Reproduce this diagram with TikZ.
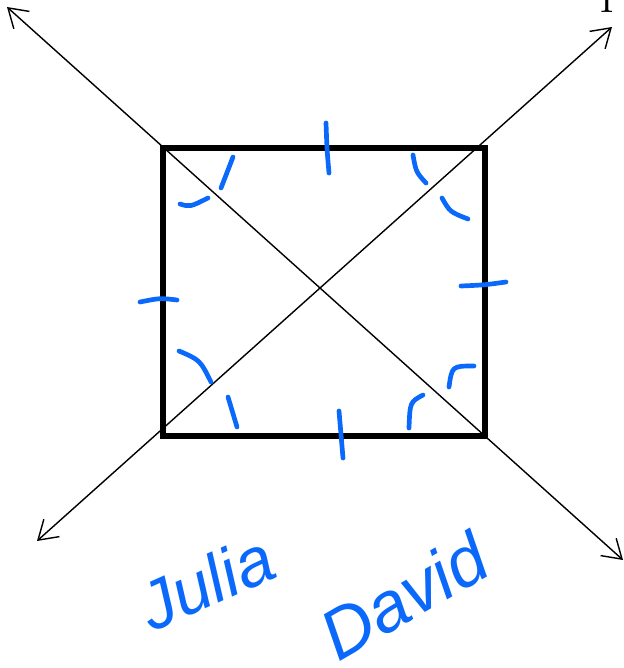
\documentclass[tikz,border=0pt]{standalone}
\usepackage{fontspec}
\usepackage{xcolor}
\usepackage{tikz}
\usetikzlibrary{arrows.meta}
\newfontfamily\handfont{Liberation Sans}
\definecolor{penblue}{RGB}{10, 105, 250}

\begin{document}
\begin{tikzpicture}[
  x=0.03cm, y=-0.03cm,
  axis/.style={line width=1.2pt, {Straight Barb[length=5.5mm, width=7mm, line width=1.2pt]}-{Straight Barb[length=5.5mm, width=7mm, line width=1.2pt]}},
  sqside/.style={draw, line width=4.3pt},
  tickmark/.style={draw=penblue, line width=4pt, line cap=round},
  handname/.style={text=penblue, font=\handfont\itshape\fontsize{58}{64}\selectfont, inner sep=0pt},
]
  \useasboundingbox (0,0) rectangle (624,668);

  % Corners of the square
  \coordinate (tl) at (163,148);
  \coordinate (tr) at (485,148);
  \coordinate (br) at (485,436);
  \coordinate (bl) at (163,436);

  % Ends of the diagonals
  \coordinate (nw) at (7,7);
  \coordinate (se) at (623,560);
  \coordinate (ne) at (612,27);
  \coordinate (sw) at (37,541);

  % Diagonals
  \draw[axis] (nw) -- (se);
  \draw[axis] (sw) -- (ne);

  % Square
  \draw[sqside] (tl) rectangle (br);

  % Label
  \node[font=\fontsize{40}{48}\selectfont, anchor=base west, inner sep=0pt] (p) at (599,12) {P};

  % Equal sides
  \draw[tickmark] (326,123) .. controls (327,150) .. (329,173);
  \draw[tickmark] (339,411) .. controls (341,435) .. (343,458);
  \draw[tickmark] (140,302) .. controls (160,298) .. (177,300);
  \draw[tickmark] (461,286) .. controls (484,285) .. (506,282);

  % Equal angles
  \draw[tickmark] (233,157) .. controls (228,170) .. (221,188);
  \draw[tickmark] (180,204) .. controls (190,207) .. (208,198);
  \draw[tickmark] (413,155) .. controls (416,172) .. (426,183);
  \draw[tickmark] (442,198) .. controls (450,212) .. (468,219);
  \draw[tickmark] (179,351) .. controls (200,360) .. (211,382);
  \draw[tickmark] (228,397) .. controls (232,412) .. (237,427);
  \draw[tickmark] (474,366) .. controls (452,366) .. (449,387);
  \draw[tickmark] (423,395) .. controls (410,402) .. (409,428);

  % Names
  \node[handname, rotate=24] (julia) at (206,582) {Julia};
  \node[handname, rotate=30, font=\handfont\itshape\fontsize{60}{66}\selectfont] (david) at (404,596) {David};

\end{tikzpicture}
\end{document}
